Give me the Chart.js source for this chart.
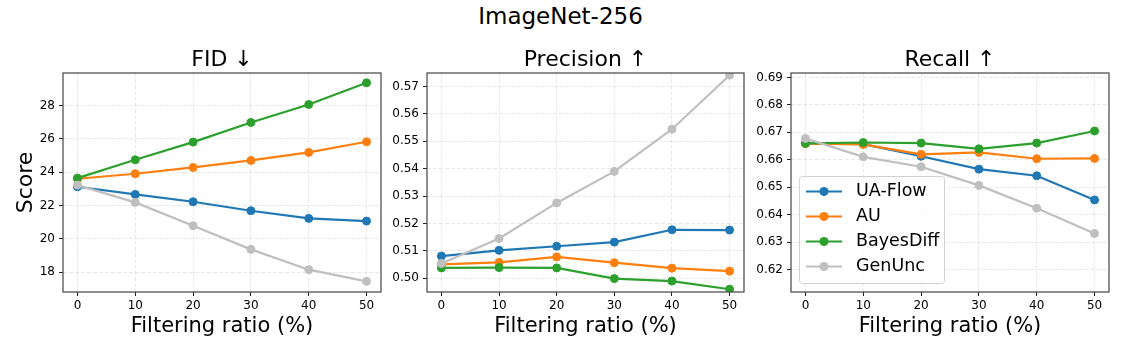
<!DOCTYPE html>
<html><head><meta charset="utf-8">
<script src="https://cdn.jsdelivr.net/npm/chart.js@4.4.1/dist/chart.umd.min.js"></script>
<style>
html,body{margin:0;padding:0;background:#fff;width:1121px;height:349px;overflow:hidden;}
#wrap{position:relative;width:1121px;height:349px;background:#fff;}
canvas{position:absolute;top:0;}
#sup{position:absolute;left:0;width:1121px;top:5px;text-align:center;font:23px/1 "DejaVu Sans";color:#000;}
</style></head><body>
<div id="wrap">
<div id="sup">ImageNet-256</div>
<canvas id="c1" style="left:0px;width:390px;height:349px" width="390" height="349"></canvas>
<canvas id="c2" style="left:377px;width:376px;height:349px" width="376" height="349"></canvas>
<canvas id="c3" style="left:741px;width:380px;height:349px" width="380" height="349"></canvas>
</div>
<script>
// ---- data ----
const ratios = [0, 10, 20, 30, 40, 50];
const seriesNames = ["UA-Flow", "AU", "BayesDiff", "GenUnc"];
const seriesColors = ["#1f77b4", "#ff7f0e", "#2ca02c", "#bfbfbf"];

const fidUAFlow    = [23.12, 22.66, 22.22, 21.68, 21.22, 21.06];
const fidAU        = [23.60, 23.90, 24.28, 24.70, 25.18, 25.82];
const fidBayesDiff = [23.64, 24.74, 25.80, 26.98, 28.06, 29.36];
const fidGenUnc    = [23.22, 22.18, 20.78, 19.36, 18.14, 17.44];

const precUAFlow    = [0.5081, 0.5102, 0.5117, 0.5132, 0.5177, 0.5176];
const precAU        = [0.5051, 0.5058, 0.5078, 0.5057, 0.5037, 0.5026];
const precBayesDiff = [0.5038, 0.5039, 0.5038, 0.4999, 0.4990, 0.4960];
const precGenUnc    = [0.5054, 0.5145, 0.5275, 0.5390, 0.5544, 0.5741];

const recUAFlow    = [0.6660, 0.6657, 0.6613, 0.6566, 0.6542, 0.6454];
const recAU        = [0.6659, 0.6656, 0.6620, 0.6627, 0.6604, 0.6605];
const recBayesDiff = [0.6660, 0.6663, 0.6661, 0.6640, 0.6661, 0.6705];
const recGenUnc    = [0.6678, 0.6611, 0.6575, 0.6507, 0.6424, 0.6332];

const xTicks    = [0, 10, 20, 30, 40, 50];
const fidTicks  = [18, 20, 22, 24, 26, 28];
const precTicks = [0.50, 0.51, 0.52, 0.53, 0.54, 0.55, 0.56, 0.57];
const recTicks  = [0.62, 0.63, 0.64, 0.65, 0.66, 0.67, 0.68, 0.69];

const panelTitles = ["FID \u2193", "Precision \u2191", "Recall \u2191"];
const xTitle = "Filtering ratio (%)";
const yTitle = "Score";

// ---- plugins ----
const FONT = "DejaVu Sans";
const framePlugin = {
  id: 'frame',
  afterDatasetsDraw(chart) {
    const a = chart.chartArea, ctx = chart.ctx;
    ctx.save();
    ctx.strokeStyle = '#444';
    ctx.lineWidth = 1.2;
    ctx.strokeRect(a.left, a.top, a.right - a.left, a.bottom - a.top);
    ctx.restore();
  }
};
const titlePlugin = {
  id: 'panelTitle',
  afterDraw(chart, args, opts) {
    if (!opts || !opts.text) return;
    const a = chart.chartArea, ctx = chart.ctx;
    ctx.save();
    ctx.font = '22px "' + FONT + '"';
    ctx.fillStyle = '#000';
    ctx.textAlign = 'center';
    ctx.textBaseline = 'alphabetic';
    ctx.fillText(opts.text, (a.left + a.right) / 2, a.top - 7);
    ctx.restore();
  }
};
const legendPlugin = {
  id: 'innerLegend',
  afterDraw(chart, args, opts) {
    if (!opts || !opts.show) return;
    const a = chart.chartArea, ctx = chart.ctx;
    const bx = a.left + 8, by = a.top + 103, bw = 145, bh = 107;
    ctx.save();
    ctx.beginPath();
    if (ctx.roundRect) ctx.roundRect(bx + 0.5, by + 0.5, bw, bh, 3); else ctx.rect(bx + 0.5, by + 0.5, bw, bh);
    ctx.fillStyle = 'rgba(255,255,255,0.8)';
    ctx.fill();
    ctx.strokeStyle = '#d0d0d0';
    ctx.lineWidth = 1;
    ctx.stroke();
    ctx.font = '17.5px "' + FONT + '"';
    ctx.textAlign = 'left';
    ctx.textBaseline = 'middle';
    seriesNames.forEach((name, i) => {
      const y = by + 15.5 + i * 25;
      const x0 = bx + 7;
      ctx.strokeStyle = seriesColors[i];
      ctx.lineWidth = 2.2;
      ctx.beginPath(); ctx.moveTo(x0, y); ctx.lineTo(x0 + 36, y); ctx.stroke();
      ctx.fillStyle = seriesColors[i];
      ctx.beginPath(); ctx.arc(x0 + 18, y, 4.5, 0, Math.PI * 2); ctx.fill();
      ctx.fillStyle = '#000';
      ctx.fillText(name, x0 + 50, y);
    });
    ctx.restore();
  }
};

function makeChart(id, values, yMin, yMax, yTickVals, decimals, yWidth, padRight, title, showYTitle, showLegend) {
  const drawOrder = [3, 2, 1, 0];
  const datasets = seriesNames.map((name, i) => ({
    label: name,
    data: ratios.map((r, j) => ({ x: r, y: values[i][j] })),
    borderColor: seriesColors[i],
    backgroundColor: seriesColors[i],
    pointBackgroundColor: seriesColors[i],
    pointBorderColor: seriesColors[i],
    pointRadius: 4,
    pointBorderWidth: 1,
    borderWidth: 2.2,
    tension: 0,
    order: drawOrder[i],
    clip: 0
  }));
  const gridCfg = { color: 'rgba(176,176,176,0.35)', lineWidth: 0.8, tickColor: '#222', tickWidth: 1, tickLength: 4, drawTicks: true };
  return new Chart(document.getElementById(id), {
    type: 'line',
    data: { datasets },
    options: {
      responsive: false,
      animation: false,
      events: [],
      layout: { padding: { top: 73, right: padRight, bottom: 0, left: 0 } },
      plugins: {
        legend: { display: false },
        tooltip: { enabled: false },
        panelTitle: { text: title },
        innerLegend: { show: showLegend }
      },
      scales: {
        x: {
          type: 'linear', min: -2.5, max: 52.5,
          afterBuildTicks: s => { s.ticks = xTicks.map(v => ({ value: v })); },
          afterFit: s => { s.height = 57; },
          ticks: { font: { family: FONT, size: 12 }, color: '#000', padding: 3, maxRotation: 0, autoSkip: false, callback: v => String(v) },
          grid: gridCfg,
          border: { display: false, dash: [4, 2] },
          title: { display: true, text: xTitle, font: { family: FONT, size: 21 }, color: '#000', padding: { top: 0, bottom: 10 } }
        },
        y: {
          type: 'linear', min: yMin, max: yMax,
          afterBuildTicks: s => { s.ticks = yTickVals.map(v => ({ value: v })); },
          afterFit: s => { s.width = yWidth; },
          ticks: { font: { family: FONT, size: 12 }, color: '#000', padding: 4, autoSkip: false, callback: v => Number(v).toFixed(decimals) },
          grid: gridCfg,
          border: { display: false, dash: [4, 2] },
          title: { display: showYTitle, text: yTitle, font: { family: FONT, size: 22 }, color: '#000', padding: { top: 13.5, bottom: 0 } }
        }
      }
    },
    plugins: [framePlugin, titlePlugin, legendPlugin]
  });
}

makeChart('c1', [fidUAFlow, fidAU, fidBayesDiff, fidGenUnc], 16.80, 29.95, fidTicks, 0, 63, 9, panelTitles[0], true, false);
makeChart('c2', [precUAFlow, precAU, precBayesDiff, precGenUnc], 0.4950, 0.5749, precTicks, 2, 50, 9, panelTitles[1], false, false);
makeChart('c3', [recUAFlow, recAU, recBayesDiff, recGenUnc], 0.6119, 0.6916, recTicks, 2, 50, 12, panelTitles[2], false, true);
</script>
</body></html>
